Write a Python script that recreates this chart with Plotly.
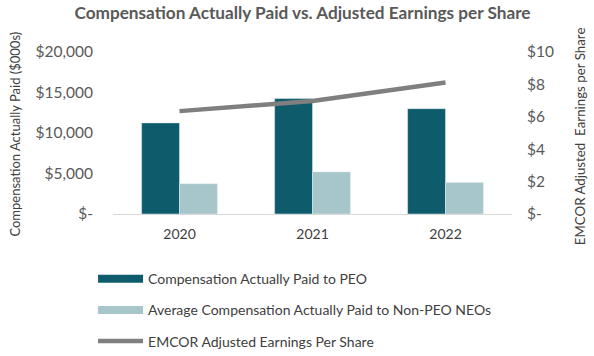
import plotly.graph_objects as go

years = ["2020", "2021", "2022"]
peo_cap = [11250, 14250, 13000]
neo_cap = [3750, 5200, 3900]
adj_eps = [6.35, 6.98, 8.12]

left_ticks = [0, 5000, 10000, 15000, 20000]
left_text = ["$-", "$5,000", "$10,000", "$15,000", "$20,000"]
right_ticks = [0, 2, 4, 6, 8, 10]
right_text = ["$-", "$2", "$4", "$6", "$8", "$10"]

dark = "#0E5C6B"
light = "#A7C6CC"
grey = "#7F7F7F"
txt = "#595959"
font = "Lato, 'Open Sans', sans-serif"

fig = go.Figure()
fig.add_trace(go.Bar(x=years, y=peo_cap, marker_color=dark, showlegend=False,
                     name="Compensation Actually Paid to PEO"))
fig.add_trace(go.Bar(x=years, y=neo_cap, marker_color=light, showlegend=False,
                     name="Average Compensation Actually Paid to Non-PEO NEOs"))
fig.add_trace(go.Scatter(x=years, y=adj_eps, yaxis="y2", mode="lines",
                         line=dict(color=grey, width=4.5), showlegend=False,
                         name="EMCOR Adjusted Earnings Per Share"))
# legend entries
fig.add_trace(go.Scatter(x=[None], y=[None], mode="lines", line=dict(color=dark, width=8),
                         name="Compensation Actually Paid to PEO", legendgroup="a"))
fig.add_trace(go.Scatter(x=[None], y=[None], mode="lines", line=dict(color=light, width=8),
                         name="Average Compensation Actually Paid to Non-PEO NEOs", legendgroup="b"))
fig.add_trace(go.Scatter(x=[None], y=[None], mode="lines", line=dict(color=grey, width=4.5),
                         name="EMCOR Adjusted Earnings Per Share", legendgroup="c"))

fig.update_layout(
    width=594, height=356,
    margin=dict(l=113, r=82, t=52, b=142, autoexpand=False),
    paper_bgcolor="white", plot_bgcolor="white",
    font=dict(family=font, color=txt, size=13),
    title=dict(text="<b>Compensation Actually Paid vs. Adjusted Earnings per Share</b>",
               x=302.5 / 594, xanchor="center", xref="container", y=1 - 13 / 356, yref="container",
               yanchor="middle", font=dict(size=17.2, color=txt, family=font)),
    barmode="group", bargap=0.43, bargroupgap=0,
    xaxis=dict(type="category", showline=True, linecolor="#D9D9D9", linewidth=1,
               ticks="", tickfont=dict(size=14, color="#404040"), automargin=False,
               ticklabelstandoff=7),
    yaxis=dict(range=[0, 20000], tickvals=left_ticks, ticktext=left_text, automargin=False,
               showgrid=False, zeroline=False, ticks="", ticklabelstandoff=19,
               tickfont=dict(size=15.5)),
    yaxis2=dict(range=[0, 10], tickvals=right_ticks, ticktext=right_text, overlaying="y",
                side="right", showgrid=False, zeroline=False, ticks="", automargin=False,
                ticklabelstandoff=14, tickfont=dict(size=15.5)),
    legend=dict(orientation="v", x=-0.05, xanchor="left", y=-0.303, yanchor="top",
                font=dict(size=14, color="#404040"), tracegroupgap=10, itemwidth=45),
    annotations=[
        dict(text="Compensation Actually Paid ($000s)", xref="paper", yref="paper",
             x=(15 - 113) / 399, y=0.49, textangle=-90, showarrow=False,
             xanchor="center", yanchor="middle", font=dict(size=13, color="#404040")),
        dict(text="EMCOR Adjusted  Earnings per Share", xref="paper", yref="paper",
             x=(580 - 113) / 399, y=0.48, textangle=-90, showarrow=False,
             xanchor="center", yanchor="middle", font=dict(size=13.3, color="#404040")),
    ],
)

fig.write_html("out.html", config={"displayModeBar": False},
               post_script="document.body.style.margin='0';")
